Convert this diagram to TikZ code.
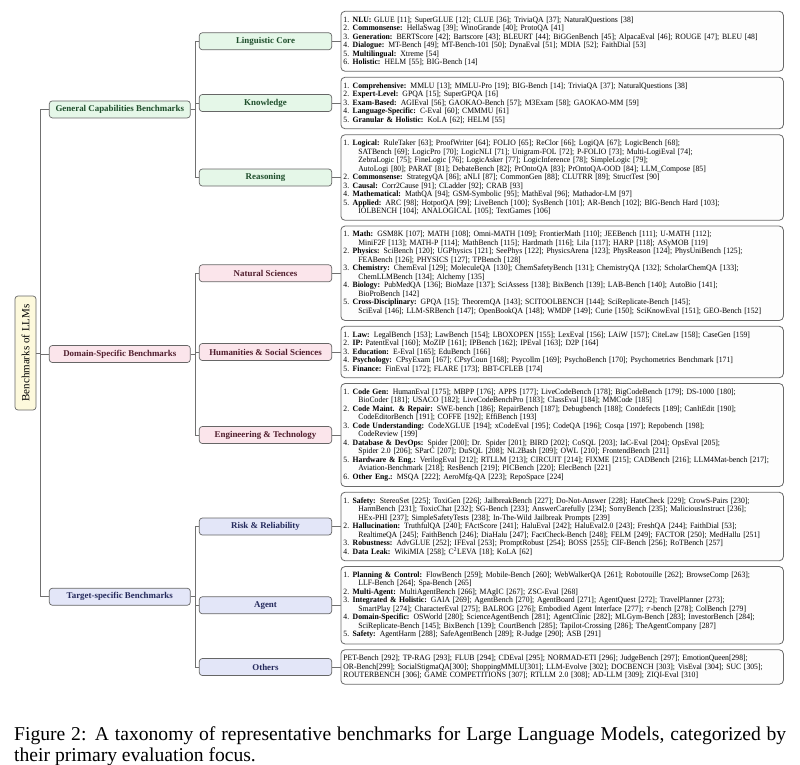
\documentclass[tikz,border=0pt]{standalone}
\usepackage{fontspec}
\setmainfont{Liberation Serif}
\newfontfamily\leaffont{Liberation Serif}[FakeStretch=0.95]
\usetikzlibrary{calc}
\definecolor{gfill}{HTML}{E5F7E8}
\definecolor{gtext}{HTML}{1E4D2B}
\definecolor{pfill}{HTML}{FBE5EB}
\definecolor{ptext}{HTML}{4F1D2C}
\definecolor{bfill}{HTML}{E3E6F8}
\definecolor{btext}{HTML}{252A5C}
\definecolor{rfill}{HTML}{FDF9DC}
\definecolor{boxb}{HTML}{666666}
\definecolor{lineg}{HTML}{707070}
\definecolor{leafb}{HTML}{6A6A6A}
\definecolor{leaff}{HTML}{FDFDFD}
\newcommand{\itm}[2]{\makebox[9.3pt][l]{#1.}\textbf{#2}}
\newcommand{\cnt}{\hspace*{15pt}}
\begin{document}
\begin{tikzpicture}[x=1pt,y=-1pt,
  conn/.style={draw=lineg, line width=0.8pt},
  lvl/.style={draw=boxb, line width=0.7pt, rounded corners=3pt, inner sep=0pt,
    font=\fontsize{8.9}{10}\selectfont\bfseries, minimum height=17pt},
  lone/.style={lvl, minimum width=141pt},
  ltwo/.style={lvl, minimum width=132.4pt},
  gcol/.style={fill=gfill, text=gtext},
  pcol/.style={fill=pfill, text=ptext},
  bcol/.style={fill=bfill, text=btext},
  rootbox/.style={draw=boxb, fill=rfill, line width=0.7pt, rounded corners=3pt, rotate=90,
    minimum width=114pt, minimum height=21pt, inner sep=0pt, font=\fontsize{11}{12}\selectfont},
  leaf/.style={draw=leafb, fill=leaff, line width=0.8pt, rounded corners=4pt, anchor=west,
    text width=437.5pt, inner xsep=2.5pt, inner ysep=5.25pt, align=left,
    font=\leaffont\fontsize{8.1}{8.5}\selectfont},
  captxt/.style={anchor=north west, text width=772pt, align=justify, inner sep=0pt,
    font=\fontsize{19.6}{20.5}\selectfont}
]
\useasboundingbox (0,0) rectangle (800,764);

% root
\node[rootbox] (root) at (25.5,353) {Benchmarks of LLMs};

% level 1
\node[lone,gcol] (gcb) at (119.8,109.4) {General Capabilities Benchmarks};
\node[lone,pcol] (dsb) at (119.8,354) {Domain-Specific Benchmarks};
\node[lone,bcol] (tsb) at (119.8,596.75) {Target-specific Benchmarks};

% level 2
\node[ltwo,gcol] (ling) at (265.5,41.25) {Linguistic Core};
\node[ltwo,gcol] (know) at (265.5,103) {Knowledge};
\node[ltwo,gcol] (reas) at (265.5,177.5) {Reasoning};
\node[ltwo,pcol] (nat) at (265.5,273.25) {Natural Sciences};
\node[ltwo,pcol] (hum) at (265.5,352) {Humanities \& Social Sciences};
\node[ltwo,pcol] (eng) at (265.5,435) {Engineering \& Technology};
\node[ltwo,bcol] (risk) at (265.5,526.5) {Risk \& Reliability};
\node[ltwo,bcol] (agent) at (265.5,605.25) {Agent};
\node[ltwo,bcol] (oth) at (265.5,667) {Others};

% leaves
\node[leaf] (lingL) at (340.5,41.25) {%
\itm{1}{NLU:} GLUE [11]; SuperGLUE [12]; CLUE [36]; TriviaQA [37]; NaturalQuestions [38]\\
\itm{2}{Commonsense:} HellaSwag [39]; WinoGrande [40]; ProtoQA [41]\\
\itm{3}{Generation:} BERTScore [42]; Bartscore [43]; BLEURT [44]; BiGGenBench [45]; AlpacaEval [46]; ROUGE [47]; BLEU [48]\\
\itm{4}{Dialogue:} MT-Bench [49]; MT-Bench-101 [50]; DynaEval [51]; MDIA [52]; FaithDial [53]\\
\itm{5}{Multilingual:} Xtreme [54]\\
\itm{6}{Holistic:} HELM [55]; BIG-Bench [14]};

\node[leaf] (knowL) at (340.5,103) {%
\itm{1}{Comprehensive:} MMLU [13]; MMLU-Pro [19]; BIG-Bench [14]; TriviaQA [37]; NaturalQuestions [38]\\
\itm{2}{Expert-Level:} GPQA [15]; SuperGPQA [16]\\
\itm{3}{Exam-Based:} AGIEval [56]; GAOKAO-Bench [57]; M3Exam [58]; GAOKAO-MM [59]\\
\itm{4}{Language-Specific:} C-Eval [60]; CMMMU [61]\\
\itm{5}{Granular \& Holistic:} KoLA [62]; HELM [55]};

\node[leaf] (reasL) at (340.5,177.5) {%
\itm{1}{Logical:} RuleTaker [63]; ProofWriter [64]; FOLIO [65]; ReClor [66]; LogiQA [67]; LogicBench [68];\\
\cnt SATBench [69]; LogicPro [70]; LogicNLI [71]; Unigram-FOL [72]; P-FOLIO [73]; Multi-LogiEval [74];\\
\cnt ZebraLogic [75]; FineLogic [76]; LogicAsker [77]; LogicInference [78]; SimpleLogic [79];\\
\cnt AutoLogi [80]; PARAT [81]; DebateBench [82]; PrOntoQA [83]; PrOntoQA-OOD [84]; LLM\_Compose [85]\\
\itm{2}{Commonsense:} StrategyQA [86]; aNLI [87]; CommonGen [88]; CLUTRR [89]; StructTest [90]\\
\itm{3}{Causal:} Corr2Cause [91]; CLadder [92]; CRAB [93]\\
\itm{4}{Mathematical:} MathQA [94]; GSM-Symbolic [95]; MathEval [96]; Mathador-LM [97]\\
\itm{5}{Applied:} ARC [98]; HotpotQA [99]; LiveBench [100]; SysBench [101]; AR-Bench [102]; BIG-Bench Hard [103];\\
\cnt IOLBENCH [104]; ANALOGICAL [105]; TextGames [106]};

\node[leaf] (natL) at (340.5,273.25) {%
\itm{1}{Math:} GSM8K [107]; MATH [108]; Omni-MATH [109]; FrontierMath [110]; JEEBench [111]; U-MATH [112];\\
\cnt MiniF2F [113]; MATH-P [114]; MathBench [115]; Hardmath [116]; Lila [117]; HARP [118]; ASyMOB [119]\\
\itm{2}{Physics:} SciBench [120]; UGPhysics [121]; SeePhys [122]; PhysicsArena [123]; PhysReason [124]; PhysUniBench [125];\\
\cnt FEABench [126]; PHYSICS [127]; TPBench [128]\\
\itm{3}{Chemistry:} ChemEval [129]; MoleculeQA [130]; ChemSafetyBench [131]; ChemistryQA [132]; ScholarChemQA [133];\\
\cnt ChemLLMBench [134]; Alchemy [135]\\
\itm{4}{Biology:} PubMedQA [136]; BioMaze [137]; SciAssess [138]; BixBench [139]; LAB-Bench [140]; AutoBio [141];\\
\cnt BioProBench [142]\\
\itm{5}{Cross-Disciplinary:} GPQA [15]; TheoremQA [143]; SCITOOLBENCH [144]; SciReplicate-Bench [145];\\
\cnt SciEval [146]; LLM-SRBench [147]; OpenBookQA [148]; WMDP [149]; Curie [150]; SciKnowEval [151]; GEO-Bench [152]};

\node[leaf] (humL) at (340.5,352) {%
\itm{1}{Law:} LegalBench [153]; LawBench [154]; LBOXOPEN [155]; LexEval [156]; LAiW [157]; CiteLaw [158]; CaseGen [159]\\
\itm{2}{IP:} PatentEval [160]; MoZIP [161]; IPBench [162]; IPEval [163]; D2P [164]\\
\itm{3}{Education:} E-Eval [165]; EduBench [166]\\
\itm{4}{Psychology:} CPsyExam [167]; CPsyCoun [168]; Psycollm [169]; PsychoBench [170]; Psychometrics Benchmark [171]\\
\itm{5}{Finance:} FinEval [172]; FLARE [173]; BBT-CFLEB [174]};

\node[leaf] (engL) at (340.5,435) {%
\itm{1}{Code Gen:} HumanEval [175]; MBPP [176]; APPS [177]; LiveCodeBench [178]; BigCodeBench [179]; DS-1000 [180];\\
\cnt BioCoder [181]; USACO [182]; LiveCodeBenchPro [183]; ClassEval [184]; MMCode [185]\\
\itm{2}{Code Maint. \& Repair:} SWE-bench [186]; RepairBench [187]; Debugbench [188]; Condefects [189]; CanItEdit [190];\\
\cnt CodeEditorBench [191]; COFFE [192]; EffiBench [193]\\
\itm{3}{Code Understanding:} CodeXGLUE [194]; xCodeEval [195]; CodeQA [196]; Cosqa [197]; Repobench [198];\\
\cnt CodeReview [199]\\
\itm{4}{Database \& DevOps:} Spider [200]; Dr. Spider [201]; BIRD [202]; CoSQL [203]; IaC-Eval [204]; OpsEval [205];\\
\cnt Spider 2.0 [206]; SParC [207]; DuSQL [208]; NL2Bash [209]; OWL [210]; FrontendBench [211]\\
\itm{5}{Hardware \& Eng.:} VerilogEval [212]; RTLLM [213]; CIRCUIT [214]; FIXME [215]; CADBench [216]; LLM4Mat-bench [217];\\
\cnt Aviation-Benchmark [218]; ResBench [219]; PICBench [220]; ElecBench [221]\\
\itm{6}{Other Eng.:} MSQA [222]; AeroMfg-QA [223]; RepoSpace [224]};

\node[leaf] (riskL) at (340.5,526.5) {%
\itm{1}{Safety:} StereoSet [225]; ToxiGen [226]; JailbreakBench [227]; Do-Not-Answer [228]; HateCheck [229]; CrowS-Pairs [230];\\
\cnt HarmBench [231]; ToxicChat [232]; SG-Bench [233]; AnswerCarefully [234]; SorryBench [235]; MaliciousInstruct [236];\\
\cnt HEx-PHI [237]; SimpleSafetyTests [238]; In-The-Wild Jailbreak Prompts [239]\\
\itm{2}{Hallucination:} TruthfulQA [240]; FActScore [241]; HaluEval [242]; HaluEval2.0 [243]; FreshQA [244]; FaithDial [53];\\
\cnt RealtimeQA [245]; FaithBench [246]; DiaHalu [247]; FactCheck-Bench [248]; FELM [249]; FACTOR [250]; MedHallu [251]\\
\itm{3}{Robustness:} AdvGLUE [252]; IFEval [253]; PromptRobust [254]; BOSS [255]; CIF-Bench [256]; RoTBench [257]\\
\itm{4}{Data Leak:} WikiMIA [258]; C\textsuperscript{2}LEVA [18]; KoLA [62]};

\node[leaf] (agentL) at (340.5,605.25) {%
\itm{1}{Planning \& Control:} FlowBench [259]; Mobile-Bench [260]; WebWalkerQA [261]; Robotouille [262]; BrowseComp [263];\\
\cnt LLF-Bench [264]; Spa-Bench [265]\\
\itm{2}{Multi-Agent:} MultiAgentBench [266]; MAgIC [267]; ZSC-Eval [268]\\
\itm{3}{Integrated \& Holistic:} GAIA [269]; AgentBench [270]; AgentBoard [271]; AgentQuest [272]; TravelPlanner [273];\\
\cnt SmartPlay [274]; CharacterEval [275]; BALROG [276]; Embodied Agent Interface [277]; $\tau$-bench [278]; ColBench [279]\\
\itm{4}{Domain-Specific:} OSWorld [280]; ScienceAgentBench [281]; AgentClinic [282]; MLGym-Bench [283]; InvestorBench [284];\\
\cnt SciReplicate-Bench [145]; BixBench [139]; CourtBench [285]; Tapilot-Crossing [286]; TheAgentCompany [287]\\
\itm{5}{Safety:} AgentHarm [288]; SafeAgentBench [289]; R-Judge [290]; ASB [291]};

\node[leaf] (othL) at (340.5,667) {%
PET-Bench [292]; TP-RAG [293]; FLUB [294]; CDEval [295]; NORMAD-ETI [296]; JudgeBench [297]; EmotionQueen[298];\\
OR-Bench[299]; SocialStigmaQA[300]; ShoppingMMLU[301]; LLM-Evolve [302]; DOCBENCH [303]; VisEval [304]; SUC [305];\\
ROUTERBENCH [306]; GAME COMPETITIONS [307]; RTLLM 2.0 [308]; AD-LLM [309]; ZIQI-Eval [310]};

% connectors root -> level 1
\draw[conn] (root.south) -- ++(4.3,0) |- (gcb.west);
\draw[conn] (root.south) -- ++(4.3,0) |- (dsb.west);
\draw[conn] (root.south) -- ++(4.3,0) |- (tsb.west);
% level 1 -> level 2
\draw[conn] (gcb.east) -- ++(4.7,0) |- (ling.west);
\draw[conn] (gcb.east) -- ++(4.7,0) |- (know.west);
\draw[conn] (gcb.east) -- ++(4.7,0) |- (reas.west);
\draw[conn] (dsb.east) -- ++(4.7,0) |- (nat.west);
\draw[conn] (dsb.east) -- ++(4.7,0) |- (hum.west);
\draw[conn] (dsb.east) -- ++(4.7,0) |- (eng.west);
\draw[conn] (tsb.east) -- ++(4.7,0) |- (risk.west);
\draw[conn] (tsb.east) -- ++(4.7,0) |- (agent.west);
\draw[conn] (tsb.east) -- ++(4.7,0) |- (oth.west);
% level 2 -> leaves
\draw[conn] (ling.east) -- (lingL.west);
\draw[conn] (know.east) -- (knowL.west);
\draw[conn] (reas.east) -- (reasL.west);
\draw[conn] (nat.east) -- (natL.west);
\draw[conn] (hum.east) -- (humL.west);
\draw[conn] (eng.east) -- (engL.west);
\draw[conn] (risk.east) -- (riskL.west);
\draw[conn] (agent.east) -- (agentL.west);
\draw[conn] (oth.east) -- (othL.west);

% caption
\node[captxt] (cap) at (14,726.5) {Figure 2: A taxonomy of representative benchmarks for Large Language Models, categorized by\linebreak their primary evaluation focus.};
\end{tikzpicture}
\end{document}
